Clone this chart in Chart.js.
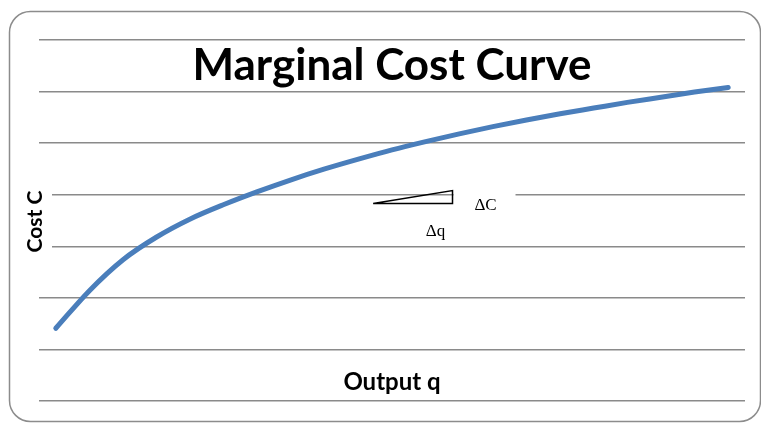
<!DOCTYPE html>
<html>
<head>
<meta charset="utf-8">
<script src="https://cdn.jsdelivr.net/npm/chart.js@4.4.1/dist/chart.umd.min.js"></script>
<style>
  html, body { margin: 0; padding: 0; background: #ffffff; }
  canvas { display: block; }
</style>
</head>
<body>
<canvas id="mc" width="761" height="423"></canvas>
<script>
// Output levels (q) along the horizontal axis
const outputLevels = ['1','2','3','4','5','6','7','8','9','10','11','12','13','14','15','16','17','18','19','20','21'];
// Cost C at each output level
const costValues = [14.1, 21.4, 27.4, 31.8, 35.3, 38.1, 40.6, 42.9, 45.0, 46.9, 48.7, 50.3, 51.8, 53.2, 54.5, 55.7, 56.8, 57.9, 58.9, 59.9, 60.8];
// Gridline values on the cost axis
const costTicks = [0, 10, 20, 30, 40, 50, 60, 70];

const chartTitle = 'Marginal Cost Curve';
const xAxisTitle = 'Output q';
const yAxisTitle = 'Cost C';

// Slope triangle: horizontal run (in output-index units) and vertical rise (cost units)
const slopeRun = [9.44, 11.8];
const slopeRise = [38.3, 40.8];
const runLabel = '\u0394q';
const riseLabel = '\u0394C';

const decorations = {
  id: 'decorations',
  beforeDraw(chart) {
    const ctx = chart.ctx;
    ctx.save();
    ctx.fillStyle = '#ffffff';
    ctx.fillRect(0, 0, chart.width, chart.height);
    ctx.restore();
  },
  afterDraw(chart) {
    const ctx = chart.ctx;
    const area = chart.chartArea;
    const xs = chart.scales.x;
    const ys = chart.scales.y;
    const cx = (area.left + area.right) / 2;

    ctx.save();

    // rounded outer frame
    ctx.strokeStyle = '#8c8c8c';
    ctx.lineWidth = 1.5;
    ctx.beginPath();
    ctx.roundRect(9.5, 11.5, 751, 410, 21);
    ctx.stroke();

    // heading
    ctx.fillStyle = '#000000';
    ctx.textAlign = 'center';
    ctx.textBaseline = 'alphabetic';
    ctx.font = 'bold 44px Lato';
    ctx.fillText(chartTitle, cx, 80);

    // horizontal axis title
    ctx.font = 'bold 24px Lato';
    ctx.fillText(xAxisTitle, cx, 390);

    // vertical axis title (on a white box)
    ctx.save();
    ctx.translate(42, (area.top + area.bottom) / 2 + 1);
    ctx.rotate(-Math.PI / 2);
    ctx.font = 'bold 21px Lato';
    const yw = ctx.measureText(yAxisTitle).width;
    ctx.fillStyle = '#ffffff';
    ctx.fillRect(-yw / 2 - 4, -18, yw + 8, 28);
    ctx.fillStyle = '#000000';
    ctx.textBaseline = 'alphabetic';
    ctx.fillText(yAxisTitle, 0, 0);
    ctx.restore();

    // slope triangle
    const x0 = xs.getPixelForValue(slopeRun[0]);
    const x1 = xs.getPixelForValue(slopeRun[1]);
    const y0 = ys.getPixelForValue(slopeRise[0]);
    const y1 = ys.getPixelForValue(slopeRise[1]);

    // white box behind the rise label
    ctx.fillStyle = '#ffffff';
    ctx.fillRect(x1 + 1, y1 - 8, 62, 32);

    ctx.strokeStyle = '#000000';
    ctx.lineWidth = 1.5;
    ctx.lineJoin = 'miter';
    ctx.beginPath();
    ctx.moveTo(x0, y0);
    ctx.lineTo(x1, y0);
    ctx.lineTo(x1, y1);
    ctx.closePath();
    ctx.stroke();

    ctx.fillStyle = '#000000';
    ctx.font = '17px "Liberation Serif"';
    ctx.textAlign = 'center';
    ctx.textBaseline = 'middle';
    ctx.fillText(riseLabel, x1 + 33, y0 + 2);
    ctx.fillText(runLabel, x1 - 17, y0 + 28);

    ctx.restore();
  }
};

new Chart(document.getElementById('mc'), {
  type: 'line',
  data: {
    labels: outputLevels,
    datasets: [{
      label: 'Cost C',
      data: costValues,
      borderColor: '#4a7ebb',
      borderWidth: 5,
      borderCapStyle: 'round',
      borderJoinStyle: 'round',
      cubicInterpolationMode: 'monotone',
      pointRadius: 0,
      pointHoverRadius: 0,
      fill: false
    }]
  },
  options: {
    responsive: false,
    animation: false,
    events: [],
    layout: { padding: { left: 39, right: 16, top: 40, bottom: 22 } },
    plugins: {
      legend: { display: false },
      title: { display: false },
      tooltip: { enabled: false }
    },
    scales: {
      x: {
        type: 'category',
        display: false,
        offset: true
      },
      y: {
        min: costTicks[0],
        max: costTicks[costTicks.length - 1],
        afterBuildTicks(scale) {
          scale.ticks = costTicks.map(v => ({ value: v }));
        },
        ticks: { display: false },
        border: { display: false },
        grid: { color: '#8a8a8a', lineWidth: 1.5, drawTicks: false }
      }
    }
  },
  plugins: [decorations]
});
</script>
</body>
</html>
